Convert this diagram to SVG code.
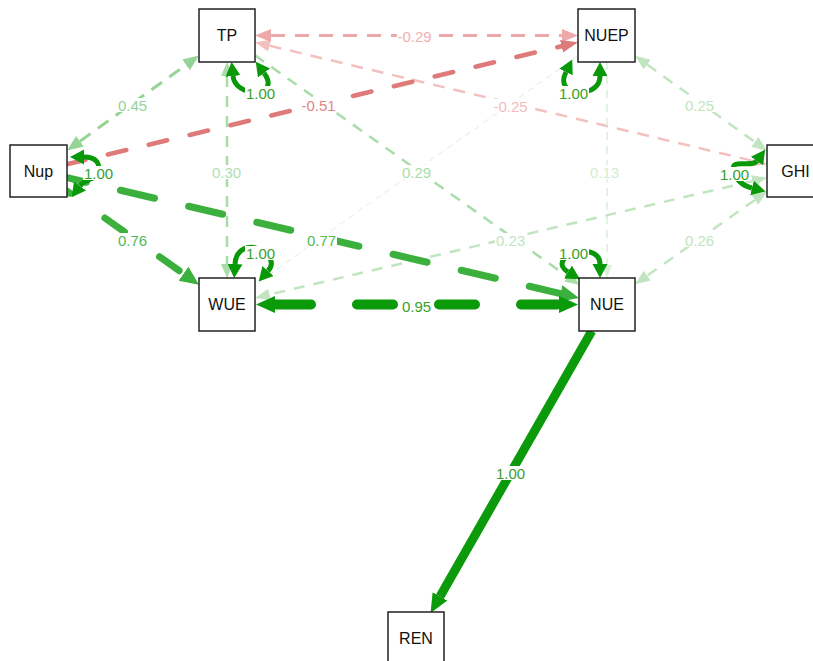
<svg xmlns="http://www.w3.org/2000/svg" width="813" height="661" viewBox="0 0 813 661">
  <style>
    .node rect { fill: #ffffff; stroke: #222222; stroke-width: 1.5; }
    .node text { font-family: "Liberation Sans", Arial, sans-serif; font-size: 16px; fill: #111111; text-anchor: middle; }
    .lbl rect { fill: #ffffff; }
    .lbl text { font-family: "Liberation Sans", Arial, sans-serif; font-size: 15px; text-anchor: middle; }
    .loop { fill: none; stroke: #089808; stroke-width: 5; marker-start: url(#a-loop); marker-end: url(#a-loop); }
  </style>
  <defs>
    <marker id="a-pink" markerUnits="userSpaceOnUse" markerWidth="24" markerHeight="24" viewBox="0 -12 24 24" refX="0" refY="0" orient="auto-start-reverse"><path d="M0,-6.5 L16,0 L0,6.5 z" fill="#eeaaaa"/></marker>
    <marker id="a-pink2" markerUnits="userSpaceOnUse" markerWidth="24" markerHeight="24" viewBox="0 -12 24 24" refX="0" refY="0" orient="auto-start-reverse"><path d="M0,-6 L15,0 L0,6 z" fill="#f3c0c0"/></marker>
    <marker id="a-red" markerUnits="userSpaceOnUse" markerWidth="24" markerHeight="24" viewBox="0 -12 24 24" refX="0" refY="0" orient="auto-start-reverse"><path d="M0,-6.5 L17,0 L0,6.5 z" fill="#df7a7a"/></marker>
    <marker id="a-g45" markerUnits="userSpaceOnUse" markerWidth="24" markerHeight="24" viewBox="0 -12 24 24" refX="0" refY="0" orient="auto-start-reverse"><path d="M0,-6.5 L16,0 L0,6.5 z" fill="#96d496"/></marker>
    <marker id="a-g30" markerUnits="userSpaceOnUse" markerWidth="24" markerHeight="24" viewBox="0 -12 24 24" refX="0" refY="0" orient="auto-start-reverse"><path d="M0,-6 L14,0 L0,6 z" fill="#a8dca8"/></marker>
    <marker id="a-g25" markerUnits="userSpaceOnUse" markerWidth="24" markerHeight="24" viewBox="0 -12 24 24" refX="0" refY="0" orient="auto-start-reverse"><path d="M0,-6 L15,0 L0,6 z" fill="#c0e5c0"/></marker>
    <marker id="a-g13" markerUnits="userSpaceOnUse" markerWidth="24" markerHeight="24" viewBox="0 -12 24 24" refX="0" refY="0" orient="auto-start-reverse"><path d="M0,-5 L13,0 L0,5 z" fill="#d8efd8"/></marker>
    <marker id="a-mid" markerUnits="userSpaceOnUse" markerWidth="24" markerHeight="24" viewBox="0 -12 24 24" refX="0" refY="0" orient="auto-start-reverse"><path d="M0,-8.5 L19,0 L0,8.5 z" fill="#3cb03c"/></marker>
    <marker id="a-dark" markerUnits="userSpaceOnUse" markerWidth="24" markerHeight="24" viewBox="0 -12 24 24" refX="0" refY="0" orient="auto-start-reverse"><path d="M0,-8.5 L19,0 L0,8.5 z" fill="#0a9a0a"/></marker>
    <marker id="a-loop" markerUnits="userSpaceOnUse" markerWidth="24" markerHeight="24" viewBox="0 -12 24 24" refX="0" refY="0" orient="auto-start-reverse"><path d="M0,-7.5 L14,0 L0,7.5 z" fill="#089808"/></marker>
  </defs>

  <g id="connectors" fill="none">
    <!-- NUEP - WUE (faint) -->
    <path d="M578,55.7 L255,284.7" stroke="#e4f3e4" stroke-width="1.2" stroke-dasharray="6 5"/>
    <!-- TP <-> GHI -->
    <path d="M269.6,45.7 L752.4,160.7" stroke="#f3c0c0" stroke-width="2.5" stroke-dasharray="12 9" marker-start="url(#a-pink2)" marker-end="url(#a-pink2)"/>
    <!-- TP <-> NUEP -->
    <path d="M271,35.5 L562,35.5" stroke="#eeaaaa" stroke-width="3" stroke-dasharray="14 10" marker-start="url(#a-pink)" marker-end="url(#a-pink)"/>
    <!-- Nup -> NUEP -->
    <path d="M67,164.2 L561.5,46.2" stroke="#df7a7a" stroke-width="4.5" stroke-dasharray="19 23" stroke-linecap="round" marker-end="url(#a-red)"/>
    <!-- Nup <-> TP -->
    <path d="M80,141.2 L186,64.9" stroke="#96d496" stroke-width="3" stroke-dasharray="13 9" marker-start="url(#a-g45)" marker-end="url(#a-g45)"/>
    <!-- TP <-> WUE -->
    <path d="M227,76 L227,264" stroke="#a8dca8" stroke-width="2.5" stroke-dasharray="11 9" marker-start="url(#a-g30)" marker-end="url(#a-g30)"/>
    <!-- TP -> NUE -->
    <path d="M255,55.3 L567.6,276.6" stroke="#a8dca8" stroke-width="2.5" stroke-dasharray="11 9" marker-end="url(#a-g30)"/>
    <!-- NUEP -> NUE -->
    <path d="M607,62 L607,265" stroke="#d8efd8" stroke-width="1.5" stroke-dasharray="8 6" marker-end="url(#a-g13)"/>
    <!-- NUEP <-> GHI -->
    <path d="M647.2,64.6 L754.8,141.9" stroke="#c0e5c0" stroke-width="2.5" stroke-dasharray="11 9" marker-start="url(#a-g25)" marker-end="url(#a-g25)"/>
    <!-- GHI <-> WUE -->
    <path d="M752.4,181.1 L269.6,294.5" stroke="#c0e5c0" stroke-width="2.5" stroke-dasharray="11 9" marker-start="url(#a-g25)" marker-end="url(#a-g25)"/>
    <!-- GHI <-> NUE -->
    <path d="M754.8,199.9 L647.2,275.6" stroke="#c0e5c0" stroke-width="2.5" stroke-dasharray="11 9" marker-start="url(#a-g25)" marker-end="url(#a-g25)"/>
    <!-- Nup -> WUE -->
    <path d="M67,191.2 L183.5,273.7" stroke="#3cb03c" stroke-width="7" stroke-dasharray="24 43" stroke-dashoffset="20.6" stroke-linecap="round" marker-end="url(#a-mid)"/>
    <!-- Nup -> NUE -->
    <path d="M67,177.7 L560.5,293.6" stroke="#3cb03c" stroke-width="7" stroke-dasharray="35 35" stroke-dashoffset="15.1" stroke-linecap="round" marker-end="url(#a-mid)"/>
    <!-- WUE <-> NUE -->
    <path d="M275,304.5 L559,304.5" stroke="#0a9a0a" stroke-width="10" stroke-dasharray="36 46" stroke-linecap="round" marker-start="url(#a-dark)" marker-end="url(#a-dark)"/>
    <!-- NUE -> REN -->
    <path d="M591.8,331 L440,596.4" stroke="#0a9a0a" stroke-width="9" marker-end="url(#a-dark)"/>

    <!-- residual variance loops -->
    <path class="loop" d="M84,157 C98,157 100,165 98,172 C96,180 86,178 80,186"/>
    <path class="loop" d="M233,76 C234,86 244,92 255,92 C268,92 272,84 264,73"/>
    <path class="loop" d="M600,76 C600,86 592,92 580,92 C566,92 560,84 566,72"/>
    <path class="loop" d="M757,161 C752,168 730,158 734,170 C736,182 744,186 752,188"/>
    <path class="loop" d="M235,264 C236,248 250,244 260,250 C268,254 276,262 268,271"/>
    <path class="loop" d="M600,264 C600,254 590,250 580,252 C560,255 558,266 568,272"/>
  </g>

  <g id="edge-labels" class="lbl">
    <rect x="397" y="29" width="35" height="14"/><text x="414.5" y="41.5" fill="#efb0b0">-0.29</text>
    <rect x="301" y="98" width="35" height="14"/><text x="318.5" y="110.5" fill="#e08585">-0.51</text>
    <rect x="493" y="99" width="35" height="14"/><text x="510.5" y="111.5" fill="#f2bcbc">-0.25</text>
    <rect x="117" y="98" width="31" height="14"/><text x="132.5" y="110.5" fill="#96d496">0.45</text>
    <rect x="211" y="165" width="31" height="14"/><text x="226.5" y="177.5" fill="#b0deb0">0.30</text>
    <rect x="401" y="165" width="31" height="14"/><text x="416.5" y="177.5" fill="#a8dca8">0.29</text>
    <rect x="589" y="165" width="31" height="14"/><text x="604.5" y="177.5" fill="#d4ecd4">0.13</text>
    <rect x="684" y="98" width="31" height="14"/><text x="699.5" y="110.5" fill="#c0e5c0">0.25</text>
    <rect x="117" y="233" width="31" height="14"/><text x="132.5" y="245.5" fill="#52ba52">0.76</text>
    <rect x="306" y="233" width="31" height="14"/><text x="321.5" y="245.5" fill="#52ba52">0.77</text>
    <rect x="495" y="233" width="31" height="14"/><text x="510.5" y="245.5" fill="#c0e5c0">0.23</text>
    <rect x="684" y="233" width="31" height="14"/><text x="699.5" y="245.5" fill="#c0e5c0">0.26</text>
    <rect x="401" y="299" width="31" height="14"/><text x="416.5" y="311.5" fill="#3a9e2a">0.95</text>
    <rect x="495" y="466" width="31" height="14"/><text x="510.5" y="478.5" fill="#3a9e2a">1.00</text>
    <rect x="83" y="166" width="31" height="14"/><text x="98.5" y="178.5" fill="#3a9e2a">1.00</text>
    <rect x="245" y="86" width="31" height="14"/><text x="260.5" y="98.5" fill="#3a9e2a">1.00</text>
    <rect x="558" y="86" width="31" height="14"/><text x="573.5" y="98.5" fill="#3a9e2a">1.00</text>
    <rect x="719" y="167" width="31" height="14"/><text x="734.5" y="179.5" fill="#3a9e2a">1.00</text>
    <rect x="245" y="246" width="31" height="14"/><text x="260.5" y="258.5" fill="#3a9e2a">1.00</text>
    <rect x="558" y="246" width="31" height="14"/><text x="573.5" y="258.5" fill="#3a9e2a">1.00</text>
  </g>

  <g id="node-TP" class="node"><rect x="199" y="9" width="56" height="53"/><text x="227" y="41">TP</text></g>
  <g id="node-NUEP" class="node"><rect x="578" y="9" width="57" height="53"/><text x="606.5" y="41">NUEP</text></g>
  <g id="node-Nup" class="node"><rect x="10" y="145" width="57" height="52"/><text x="38.5" y="177">Nup</text></g>
  <g id="node-GHI" class="node"><rect x="767" y="145" width="57" height="52"/><text x="795.5" y="177">GHI</text></g>
  <g id="node-WUE" class="node"><rect x="199" y="278" width="56" height="53"/><text x="227" y="310">WUE</text></g>
  <g id="node-NUE" class="node"><rect x="579" y="278" width="56" height="53"/><text x="607" y="310">NUE</text></g>
  <g id="node-REN" class="node"><rect x="388" y="612" width="56" height="53"/><text x="416" y="644">REN</text></g>
</svg>
